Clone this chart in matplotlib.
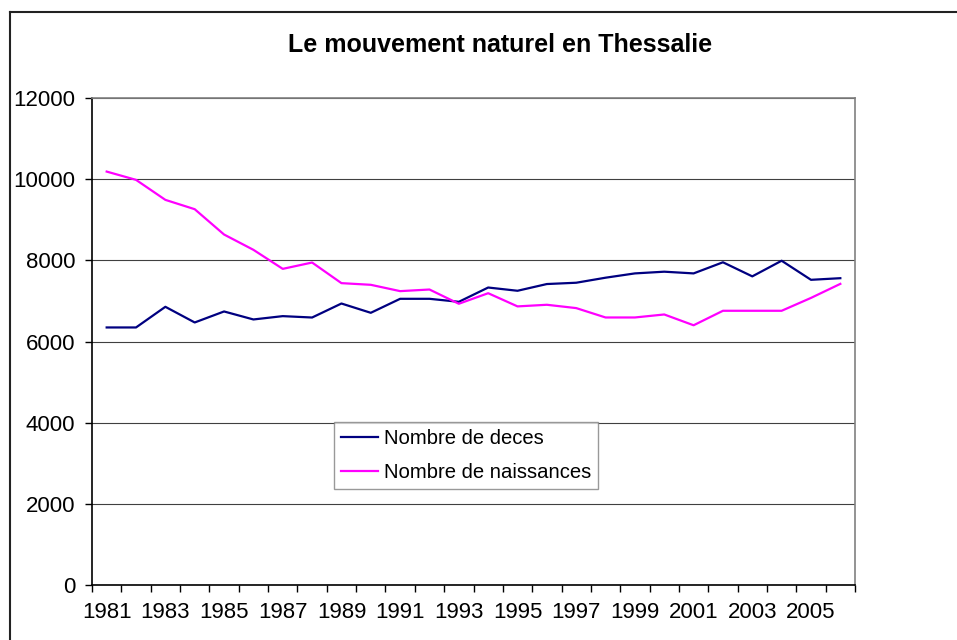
import matplotlib
matplotlib.use("Agg")
import matplotlib.pyplot as plt
from matplotlib.lines import Line2D
import numpy as np

years = list(range(1981, 2007))
deces = [6346, 6346, 6855, 6469, 6740, 6543, 6625, 6591, 6936, 6707,
         7052, 7052, 6978, 7330, 7250, 7416, 7448, 7572, 7678, 7720,
         7678, 7952, 7605, 7990, 7520, 7560]
naissances = [10187, 9983, 9490, 9260, 8636, 8259, 7790, 7946, 7438, 7397,
              7241, 7281, 6930, 7190, 6865, 6905, 6823, 6592, 6592, 6666,
              6400, 6757, 6757, 6757, 7074, 7420]
yticks = [0, 2000, 4000, 6000, 8000, 10000, 12000]
title = "Le mouvement naturel en Thessalie"
labels = ["Nombre de deces", "Nombre de naissances"]

plt.rcParams['font.family'] = ['Liberation Sans', 'DejaVu Sans']

W, H = 957, 640
fig = plt.figure(figsize=(W / 100, H / 100), dpi=100)
fig.patch.set_facecolor('white')

# outer chart-area border
fig.add_artist(Line2D([10 / W, 10 / W], [0, 1 - 12 / H], transform=fig.transFigure,
                      color='#222222', lw=1.5))
fig.add_artist(Line2D([10 / W, 1.0], [1 - 12 / H, 1 - 12 / H], transform=fig.transFigure,
                      color='#222222', lw=1.5))

L, R, T, B = 92, 855, 98, 585
ax = fig.add_axes([L / W, (H - B) / H, (R - L) / W, (B - T) / H])

x = np.arange(len(years))
ax.plot(x, deces, color='#000080', lw=1.6, label=labels[0])
ax.plot(x, naissances, color='#FF00FF', lw=1.6, label=labels[1])

ax.set_xlim(-0.5, len(years) - 0.5)
ax.set_ylim(0, 12000)
ax.set_yticks(yticks)
ax.set_yticklabels([str(v) for v in yticks])
ax.yaxis.grid(True, color='#404040', lw=0.8)
ax.set_axisbelow(True)

# category boundaries as tick marks, labels at every other category
ax.set_xticks(np.arange(-0.5, len(years)), minor=True)
ax.set_xticks(x[::2])
ax.set_xticklabels([str(y) for y in years[::2]])
ax.tick_params(axis='x', which='major', length=0, pad=12, labelsize=16)
ax.tick_params(axis='x', which='minor', length=5, width=1, direction='out', color='black')
ax.tick_params(axis='y', length=5, width=1, direction='out', pad=7, labelsize=16)

for s in ['left', 'bottom']:
    ax.spines[s].set_color('black')
    ax.spines[s].set_linewidth(1.2)
for s in ['top', 'right']:
    ax.spines[s].set_color('#808080')
    ax.spines[s].set_linewidth(1.2)

fig.text(500 / W, 1 - 45 / H, title, ha='center', va='center',
         fontsize=18, fontweight='bold')

leg = fig.legend(loc='upper left', bbox_to_anchor=(334 / W, 1 - 422 / H),
                 bbox_transform=fig.transFigure, fontsize=14.6,
                 frameon=True, fancybox=False, edgecolor='#808080',
                 handlelength=1.8, handletextpad=0.3, borderpad=0.35,
                 labelspacing=0.72, borderaxespad=0)
leg.get_frame().set_linewidth(1.0)
for h in leg.get_lines():
    h.set_linewidth(1.6)

fig.savefig('out.png', dpi=100, facecolor='white')
